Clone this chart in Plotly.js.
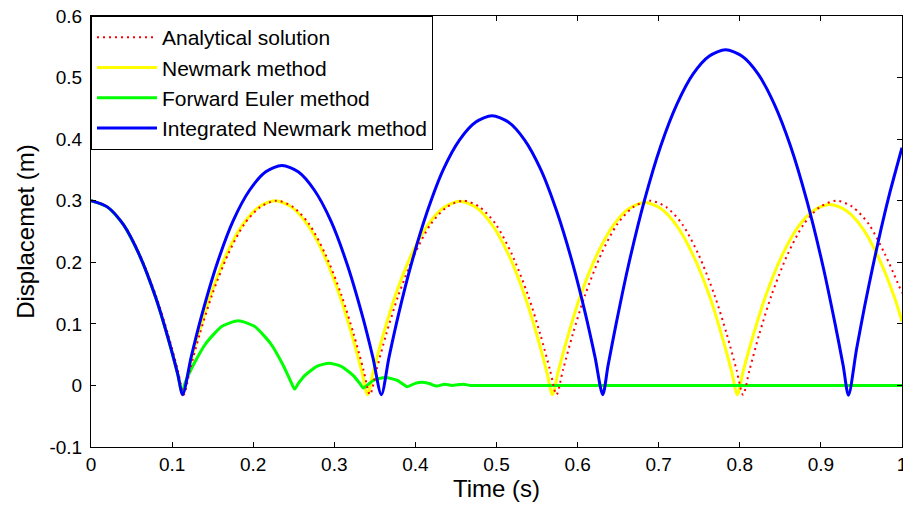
<!DOCTYPE html>
<html>
<head>
<meta charset="utf-8">
<script src="https://cdn.plot.ly/plotly-3.0.1.min.js"></script>
<style>html,body{margin:0;padding:0;background:#fff;}#chart{width:903px;height:507px;}</style>
</head>
<body>
<div id="chart"></div>
<script>
// Series names (legend order)
const seriesNames = ["Analytical solution", "Newmark method", "Forward Euler method", "Integrated Newmark method"];

// Analytical solution (red dotted)
const redT = [0,0.02,0.04,0.06,0.08,0.095,0.107,0.1145,
  0.122,0.134,0.149,0.169,0.189,0.209,0.229,0.249,0.269,0.289,0.309,0.324,0.336,0.344,
  0.352,0.364,0.379,0.399,0.419,0.439,0.459,0.479,0.499,0.519,0.539,0.554,0.566,0.574,
  0.582,0.594,0.609,0.629,0.649,0.669,0.689,0.709,0.729,0.749,0.769,0.784,0.796,0.804,
  0.812,0.824,0.839,0.859,0.879,0.899,0.919,0.939,0.959,0.979,1.0];
const redY = [0.3,0.290,0.262,0.213,0.146,0.083,0.025,-0.015,
  0.025,0.083,0.146,0.213,0.262,0.290,0.300,0.290,0.262,0.213,0.146,0.083,0.025,-0.015,
  0.025,0.083,0.146,0.213,0.262,0.290,0.300,0.290,0.262,0.213,0.146,0.083,0.025,-0.015,
  0.025,0.083,0.146,0.213,0.262,0.290,0.300,0.290,0.262,0.213,0.146,0.083,0.025,-0.015,
  0.025,0.083,0.146,0.213,0.262,0.290,0.300,0.290,0.262,0.213,0.150];

// Newmark method (yellow)
const yelT = [0,0.02,0.04,0.06,0.08,0.095,0.107,0.113,
  0.120,0.132,0.147,0.167,0.187,0.207,0.227,0.247,0.267,0.287,0.307,0.322,0.334,0.341,
  0.348,0.360,0.375,0.395,0.415,0.435,0.455,0.475,0.495,0.515,0.535,0.550,0.562,0.569,
  0.576,0.588,0.603,0.623,0.643,0.663,0.683,0.703,0.723,0.743,0.763,0.778,0.790,0.797,
  0.804,0.816,0.831,0.851,0.871,0.891,0.911,0.931,0.951,0.971,0.991,1.0];
const yelY = [0.3,0.290,0.261,0.211,0.142,0.077,0.018,-0.015,
  0.022,0.081,0.145,0.213,0.261,0.290,0.300,0.290,0.261,0.213,0.145,0.081,0.022,-0.015,
  0.022,0.081,0.145,0.212,0.260,0.289,0.299,0.289,0.260,0.212,0.145,0.081,0.022,-0.015,
  0.022,0.080,0.144,0.210,0.258,0.287,0.297,0.287,0.258,0.210,0.144,0.080,0.022,-0.015,
  0.022,0.079,0.142,0.208,0.256,0.284,0.294,0.284,0.256,0.208,0.142,0.104];

// Forward Euler method (green)
const grnT = [0,0.02,0.04,0.06,0.08,0.095,0.107,0.112,
  0.1165,0.1265,0.1415,0.1615,0.1815,0.2015,0.2215,0.2365,0.2465,0.251,
  0.2555,0.2635,0.2785,0.2935,0.3085,0.3235,0.3315,0.336,
  0.348,0.363,0.378,0.39,
  0.399,0.408,0.417,0.426,0.436,0.445,0.459,0.468,0.48,0.6,0.8,1.0];
const grnY = [0.3,0.290,0.261,0.211,0.142,0.077,0.018,-0.012,
  0.006,0.034,0.068,0.096,0.105,0.096,0.068,0.034,0.006,-0.006,
  0.003,0.016,0.031,0.036,0.031,0.016,0.003,-0.004,
  0.008,0.013,0.008,-0.002,
  0.003,0.005,0.003,-0.001,0.002,0.0,0.002,0.0,0.0,0.0,0.0,0.0];

// Integrated Newmark method (blue)
const bluT = [0,0.02,0.04,0.06,0.08,0.095,0.107,0.113,
  0.1235,0.1355,0.1555,0.1755,0.1955,0.2155,0.2355,0.2555,0.2755,0.2955,0.3155,0.3355,0.3475,0.358,
  0.3675,0.3795,0.3945,0.4145,0.4345,0.4545,0.4745,0.4945,0.5145,0.5345,0.5545,0.5745,0.5945,0.6095,0.6215,0.631,
  0.6375,0.6475,0.6625,0.6825,0.7025,0.7225,0.7425,0.7625,0.7825,0.8025,0.8225,0.8425,0.8625,0.8825,0.9025,0.9175,0.9275,0.934,
  0.944,0.954,0.964,0.974,0.984,1.0];
const bluY = [0.3,0.290,0.261,0.211,0.142,0.077,0.018,-0.015,
  0.046,0.109,0.198,0.268,0.317,0.347,0.357,0.347,0.317,0.268,0.198,0.109,0.046,-0.015,
  0.046,0.117,0.195,0.282,0.351,0.399,0.428,0.438,0.428,0.399,0.351,0.282,0.195,0.117,0.046,-0.015,
  0.032,0.100,0.194,0.301,0.389,0.457,0.506,0.535,0.545,0.535,0.506,0.457,0.389,0.301,0.194,0.100,0.032,-0.016,
  0.059,0.129,0.193,0.253,0.308,0.386];

// Tick labels
const xTickVals = [0,0.1,0.2,0.3,0.4,0.5,0.6,0.7,0.8,0.9,1];
const xTickText = ["0","0.1","0.2","0.3","0.4","0.5","0.6","0.7","0.8","0.9","1"];
const yTickVals = [-0.1,0,0.1,0.2,0.3,0.4,0.5,0.6];
const yTickText = ["-0.1","0","0.1","0.2","0.3","0.4","0.5","0.6"];

const FONT = "Liberation Sans, Arial, sans-serif";

const traces = [
  {x: yelT, y: yelY, name: seriesNames[1], legendrank: 2, mode: "lines",
   line: {color: "#ffff00", width: 3, shape: "spline", smoothing: 0.8}},
  {x: grnT, y: grnY, name: seriesNames[2], legendrank: 3, mode: "lines",
   line: {color: "#00ff00", width: 3, shape: "spline", smoothing: 0.6}},
  {x: redT, y: redY, name: seriesNames[0], legendrank: 1, mode: "lines",
   line: {color: "#ff0000", width: 2, dash: "2px,4px", shape: "spline", smoothing: 0.8}},
  {x: bluT, y: bluY, name: seriesNames[3], legendrank: 4, mode: "lines",
   line: {color: "#0000ff", width: 3, shape: "spline", smoothing: 0.8}}
];

const layout = {
  width: 903, height: 507,
  margin: {l: 91, r: 1, t: 16, b: 60, pad: 0},
  paper_bgcolor: "#ffffff", plot_bgcolor: "#ffffff",
  font: {family: FONT, color: "#000000", size: 19},
  showlegend: true,
  legend: {x: 0, y: 1, xanchor: "left", yanchor: "top",
    bgcolor: "#ffffff", bordercolor: "#000000", borderwidth: 1,
    font: {family: FONT, size: 21, color: "#000000"}, itemwidth: 60,
    traceorder: "normal"},
  xaxis: {range: [0, 1], tickvals: xTickVals, ticktext: xTickText,
    ticks: "inside", ticklen: 5, tickcolor: "#000000", tickwidth: 1,
    showline: true, linecolor: "#000000", linewidth: 1, mirror: "ticks",
    showgrid: false, zeroline: false, automargin: false, ticklabeloverflow: "allow",
    tickfont: {family: FONT, size: 19},
    title: {text: "Time (s)", font: {family: FONT, size: 24}, standoff: 6}},
  yaxis: {range: [-0.1, 0.6], tickvals: yTickVals, ticktext: yTickText,
    ticks: "inside", ticklen: 5, tickcolor: "#000000", tickwidth: 1,
    showline: true, linecolor: "#000000", linewidth: 1, mirror: "ticks",
    showgrid: false, zeroline: false, automargin: false,
    tickfont: {family: FONT, size: 19}, ticklabelstandoff: 4,
    title: {text: "Displacemet (m)", font: {family: FONT, size: 24}, standoff: 8}}
};

Plotly.newPlot("chart", traces, layout, {displayModeBar: false, staticPlot: true});
</script>
</body>
</html>
